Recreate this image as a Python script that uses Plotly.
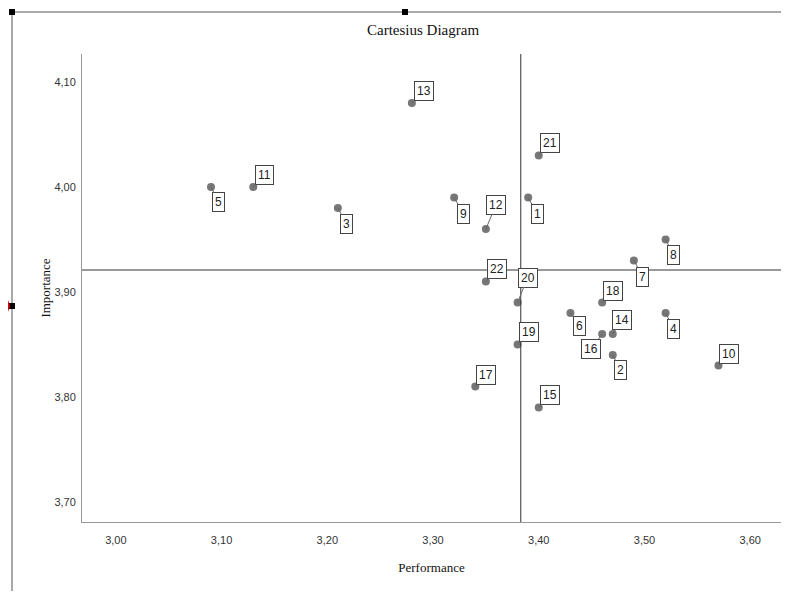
import plotly.graph_objects as go

# ---- data ----
ids = ["1", "2", "3", "4", "5", "6", "7", "8", "9", "10", "11",
       "12", "13", "14", "15", "16", "17", "18", "19", "20", "21", "22"]
performance = [3.39, 3.47, 3.21, 3.52, 3.09, 3.43, 3.49, 3.52, 3.32, 3.57, 3.13,
               3.35, 3.28, 3.47, 3.40, 3.46, 3.34, 3.46, 3.38, 3.38, 3.40, 3.35]
importance = [3.99, 3.84, 3.98, 3.88, 4.00, 3.88, 3.93, 3.95, 3.99, 3.83, 4.00,
              3.96, 4.08, 3.86, 3.79, 3.86, 3.81, 3.89, 3.85, 3.89, 4.03, 3.91]
perf_ref = 3.383
imp_ref = 3.921
x_ticks = [3.0, 3.1, 3.2, 3.3, 3.4, 3.5, 3.6]
x_tick_labels = ["3,00", "3,10", "3,20", "3,30", "3,40", "3,50", "3,60"]
y_ticks = [3.7, 3.8, 3.9, 4.0, 4.1]
y_tick_labels = ["3,70", "3,80", "3,90", "4,00", "4,10"]

# label offsets (pixels) of each label box from its point
label_dx = [9, 8, 9, 8, 8, 9, 9, 8, 9, 11, 11, 10, 12, 9, 11, -11, 11, 11, 11, 10, 11, 11]
label_dy = [16, 15, 16, 16, 15, 13, 16, 15, 16, -12, -12, -24, -12, -14, -13, 15, -12, -12, -13, -25, -13, -13]

# the page body has an 8px margin: the figure starts at (8, 8) on screen;
# keep the figure inside the viewport so no scrollbars appear
OFF = 8
W, H = 789 - 2 * OFF, 599 - 2 * OFF
L, R, T = 82 - OFF, 0, 54 - OFF
B = H - (522 - OFF)
PW, PH = W - L - R, H - T - B


def px(xs):
    # screen x -> paper
    return (xs - OFF - L) / PW


def py(ys):
    # screen y -> paper
    return (H - B - (ys - OFF)) / PH


fig = go.Figure()
fig.add_trace(go.Scatter(
    x=performance, y=importance, mode="markers",
    marker=dict(color="#777777", size=8), hoverinfo="skip", showlegend=False))

annotations = []
for i, lab in enumerate(ids):
    annotations.append(dict(
        x=performance[i], y=importance[i], xref="x", yref="y",
        text=lab, showarrow=True, arrowhead=0, arrowwidth=1, arrowcolor="#666",
        ax=label_dx[i], ay=label_dy[i], standoff=0,
        bordercolor="#444", borderwidth=1, borderpad=2, bgcolor="white",
        font=dict(family="Liberation Sans, Arial", size=12, color="#222")))

# title
annotations.append(dict(text="Cartesius Diagram", x=px(423), y=py(30), xref="paper", yref="paper",
                        showarrow=False, xanchor="center", yanchor="middle",
                        font=dict(family="Liberation Serif, Times New Roman", size=15, color="#111")))
fig.update_layout(annotations=annotations)

shapes = [
    # reference lines
    dict(type="line", xref="x", yref="paper", x0=perf_ref, x1=perf_ref, y0=0, y1=1,
         line=dict(color="#333", width=1)),
    dict(type="line", xref="paper", yref="y", x0=0, x1=1, y0=imp_ref, y1=imp_ref,
         line=dict(color="#777", width=1.5)),
    # outer frame
    dict(type="line", xref="paper", yref="paper", x0=px(12), x1=px(789), y0=py(12), y1=py(12),
         line=dict(color="#555", width=1)),
    dict(type="line", xref="paper", yref="paper", x0=px(12), x1=px(12), y0=py(12), y1=py(599),
         line=dict(color="#555", width=1)),
]
for (cx, cy) in [(12, 12), (405, 12), (12, 306)]:
    shapes.append(dict(type="rect", xref="paper", yref="paper",
                       x0=px(cx - 3), x1=px(cx + 3), y0=py(cy - 3), y1=py(cy + 3),
                       fillcolor="black", line=dict(width=0)))
# red arrow tip (only the visible part on the left)
shapes.append(dict(type="path", xref="paper", yref="paper",
                   path="M {} {} L {} {} L {} {} Z".format(
                       px(8), py(300), px(10), py(306), px(8), py(312)),
                   fillcolor="#e00000", line=dict(width=0)))
fig.update_layout(shapes=shapes)

x_right = 3.0 + (789 - OFF - 116) / 1057.0
fig.update_xaxes(range=[2.968, x_right], tickvals=x_ticks, ticktext=x_tick_labels,
                 showgrid=False, zeroline=False, showline=True, linecolor="#999", linewidth=1,
                 ticks="", tickfont=dict(family="Liberation Sans, Arial", size=11, color="#333"),
                 ticklabelstandoff=8,
                 title=dict(text="Performance", standoff=17,
                            font=dict(family="Liberation Serif, Times New Roman", size=13, color="#111")))
fig.update_yaxes(range=[3.681, 4.1267], tickvals=y_ticks, ticktext=y_tick_labels,
                 showgrid=False, zeroline=False, showline=True, linecolor="#999", linewidth=1,
                 ticks="", tickfont=dict(family="Liberation Sans, Arial", size=11, color="#333"),
                 ticklabelstandoff=3,
                 title=dict(text="Importance", standoff=0,
                            font=dict(family="Liberation Serif, Times New Roman", size=13, color="#111")))

fig.update_layout(width=W, height=H, margin=dict(l=L, r=R, t=T, b=B),
                  paper_bgcolor="white", plot_bgcolor="white")

fig.write_html("out.html")
